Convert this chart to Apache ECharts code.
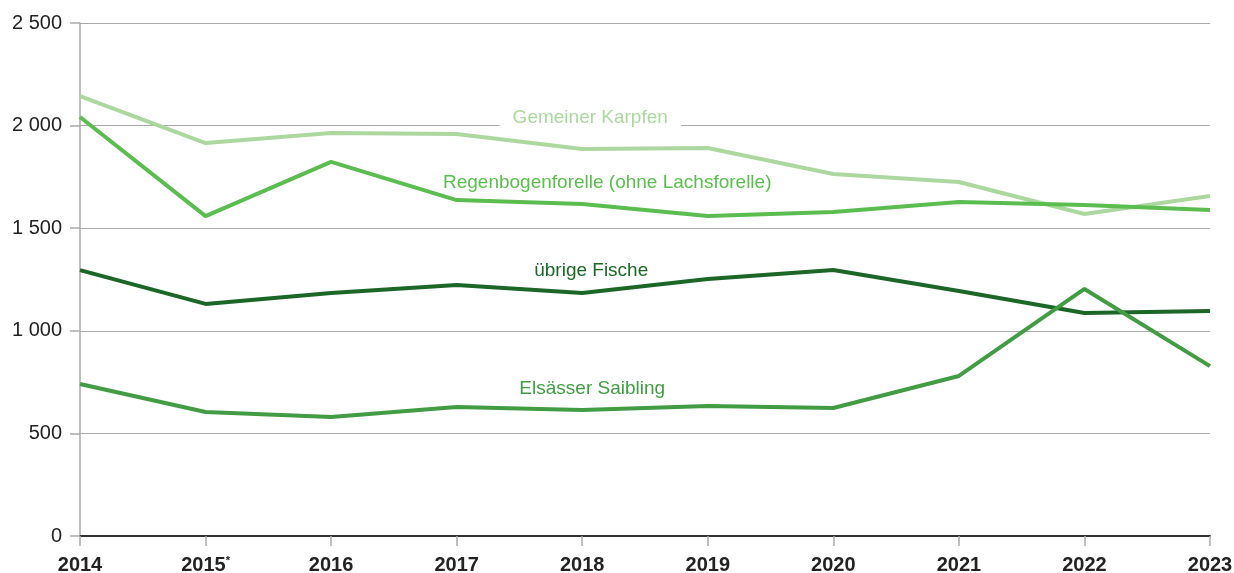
<!DOCTYPE html>
<html>
<head>
<meta charset="utf-8">
<script src="https://cdn.jsdelivr.net/npm/echarts@6/dist/echarts.min.js"></script>
<style>
html, body { margin: 0; padding: 0; background: #fff; }
#container { width: 1234px; height: 573px; }
</style>
</head>
<body>
<div id="container"></div>
<script>
// Jahre
var years = ['2014', '2015', '2016', '2017', '2018', '2019', '2020', '2021', '2022', '2023'];
// Serien
var karpfen = [2144, 1915, 1964, 1959, 1886, 1891, 1764, 1725, 1569, 1657];
var regenbogen = [2042, 1559, 1823, 1637, 1618, 1559, 1579, 1628, 1613, 1589];
var uebrige = [1296, 1131, 1184, 1223, 1184, 1252, 1296, 1194, 1087, 1096];
var saibling = [741, 604, 580, 629, 614, 633, 624, 780, 1204, 828];
var yTicks = [0, 500, 1000, 1500, 2000, 2500];

var font = '"Liberation Sans", Arial, sans-serif';

function makeSeries(name, values, color, labelText, offset, bg) {
    return {
        name: name,
        type: 'line',
        data: values,
        showSymbol: false,
        lineStyle: { color: color, width: 4 },
        itemStyle: { color: color },
        z: 3,
        markPoint: {
            symbol: 'circle',
            symbolSize: 1,
            itemStyle: { color: 'rgba(0,0,0,0)' },
            silent: true,
            data: [{
                coord: [years[4], values[4]],
                label: {
                    show: true,
                    position: 'inside',
                    formatter: labelText,
                    offset: offset,
                    color: color,
                    fontFamily: font,
                    fontSize: 19,
                    backgroundColor: bg ? '#fff' : 'transparent',
                    padding: bg ? [2, 13] : 0
                }
            }]
        }
    };
}

var myChart = echarts.init(document.getElementById('container'));
var option = {
    animation: false,
    backgroundColor: '#fff',
    grid: { left: 80, right: 24, top: 23, bottom: 37, containLabel: false, outerBoundsMode: 'none' },
    xAxis: {
        type: 'category',
        data: years,
        boundaryGap: false,
        axisLine: { lineStyle: { color: '#333', width: 2 } },
        axisTick: { show: true, interval: 0, length: 10, lineStyle: { color: '#aaa', width: 1.5 } },
        axisLabel: {
            interval: 0,
            margin: 19,
            formatter: function (v) {
                return v === '2015' ? '{b|2015}{s|*}' : '{b|' + v + '}';
            },
            rich: {
                b: { fontFamily: font, fontSize: 20, fontWeight: 'bold', color: '#222' },
                s: { fontFamily: font, fontSize: 11, fontWeight: 'bold', color: '#222', verticalAlign: 'top', padding: [0, 0, 9, 0] }
            }
        }
    },
    yAxis: {
        type: 'value',
        min: yTicks[0],
        max: yTicks[yTicks.length - 1],
        interval: 500,
        axisLine: { show: true, lineStyle: { color: '#aaa', width: 1.5 } },
        axisTick: { show: true, length: 10, lineStyle: { color: '#aaa', width: 1.5 } },
        splitLine: { lineStyle: { color: '#aaa', width: 1.2 } },
        axisLabel: {
            margin: 18,
            fontFamily: font,
            fontSize: 20,
            color: '#222',
            formatter: function (v) {
                return String(v).replace(/\B(?=(\d{3})+(?!\d))/g, ' ');
            }
        }
    },
    series: [
        makeSeries('Gemeiner Karpfen', karpfen, '#acd8a0', 'Gemeiner Karpfen', [8, -31], true),
        makeSeries('Regenbogenforelle (ohne Lachsforelle)', regenbogen, '#5bbd50', 'Regenbogenforelle (ohne Lachsforelle)', [25, -21], false),
        makeSeries('übrige Fische', uebrige, '#1c6628', 'übrige Fische', [9, -22], false),
        makeSeries('Elsässer Saibling', saibling, '#419c43', 'Elsässer Saibling', [10, -21], false)
    ]
};
myChart.setOption(option);
</script>
</body>
</html>
